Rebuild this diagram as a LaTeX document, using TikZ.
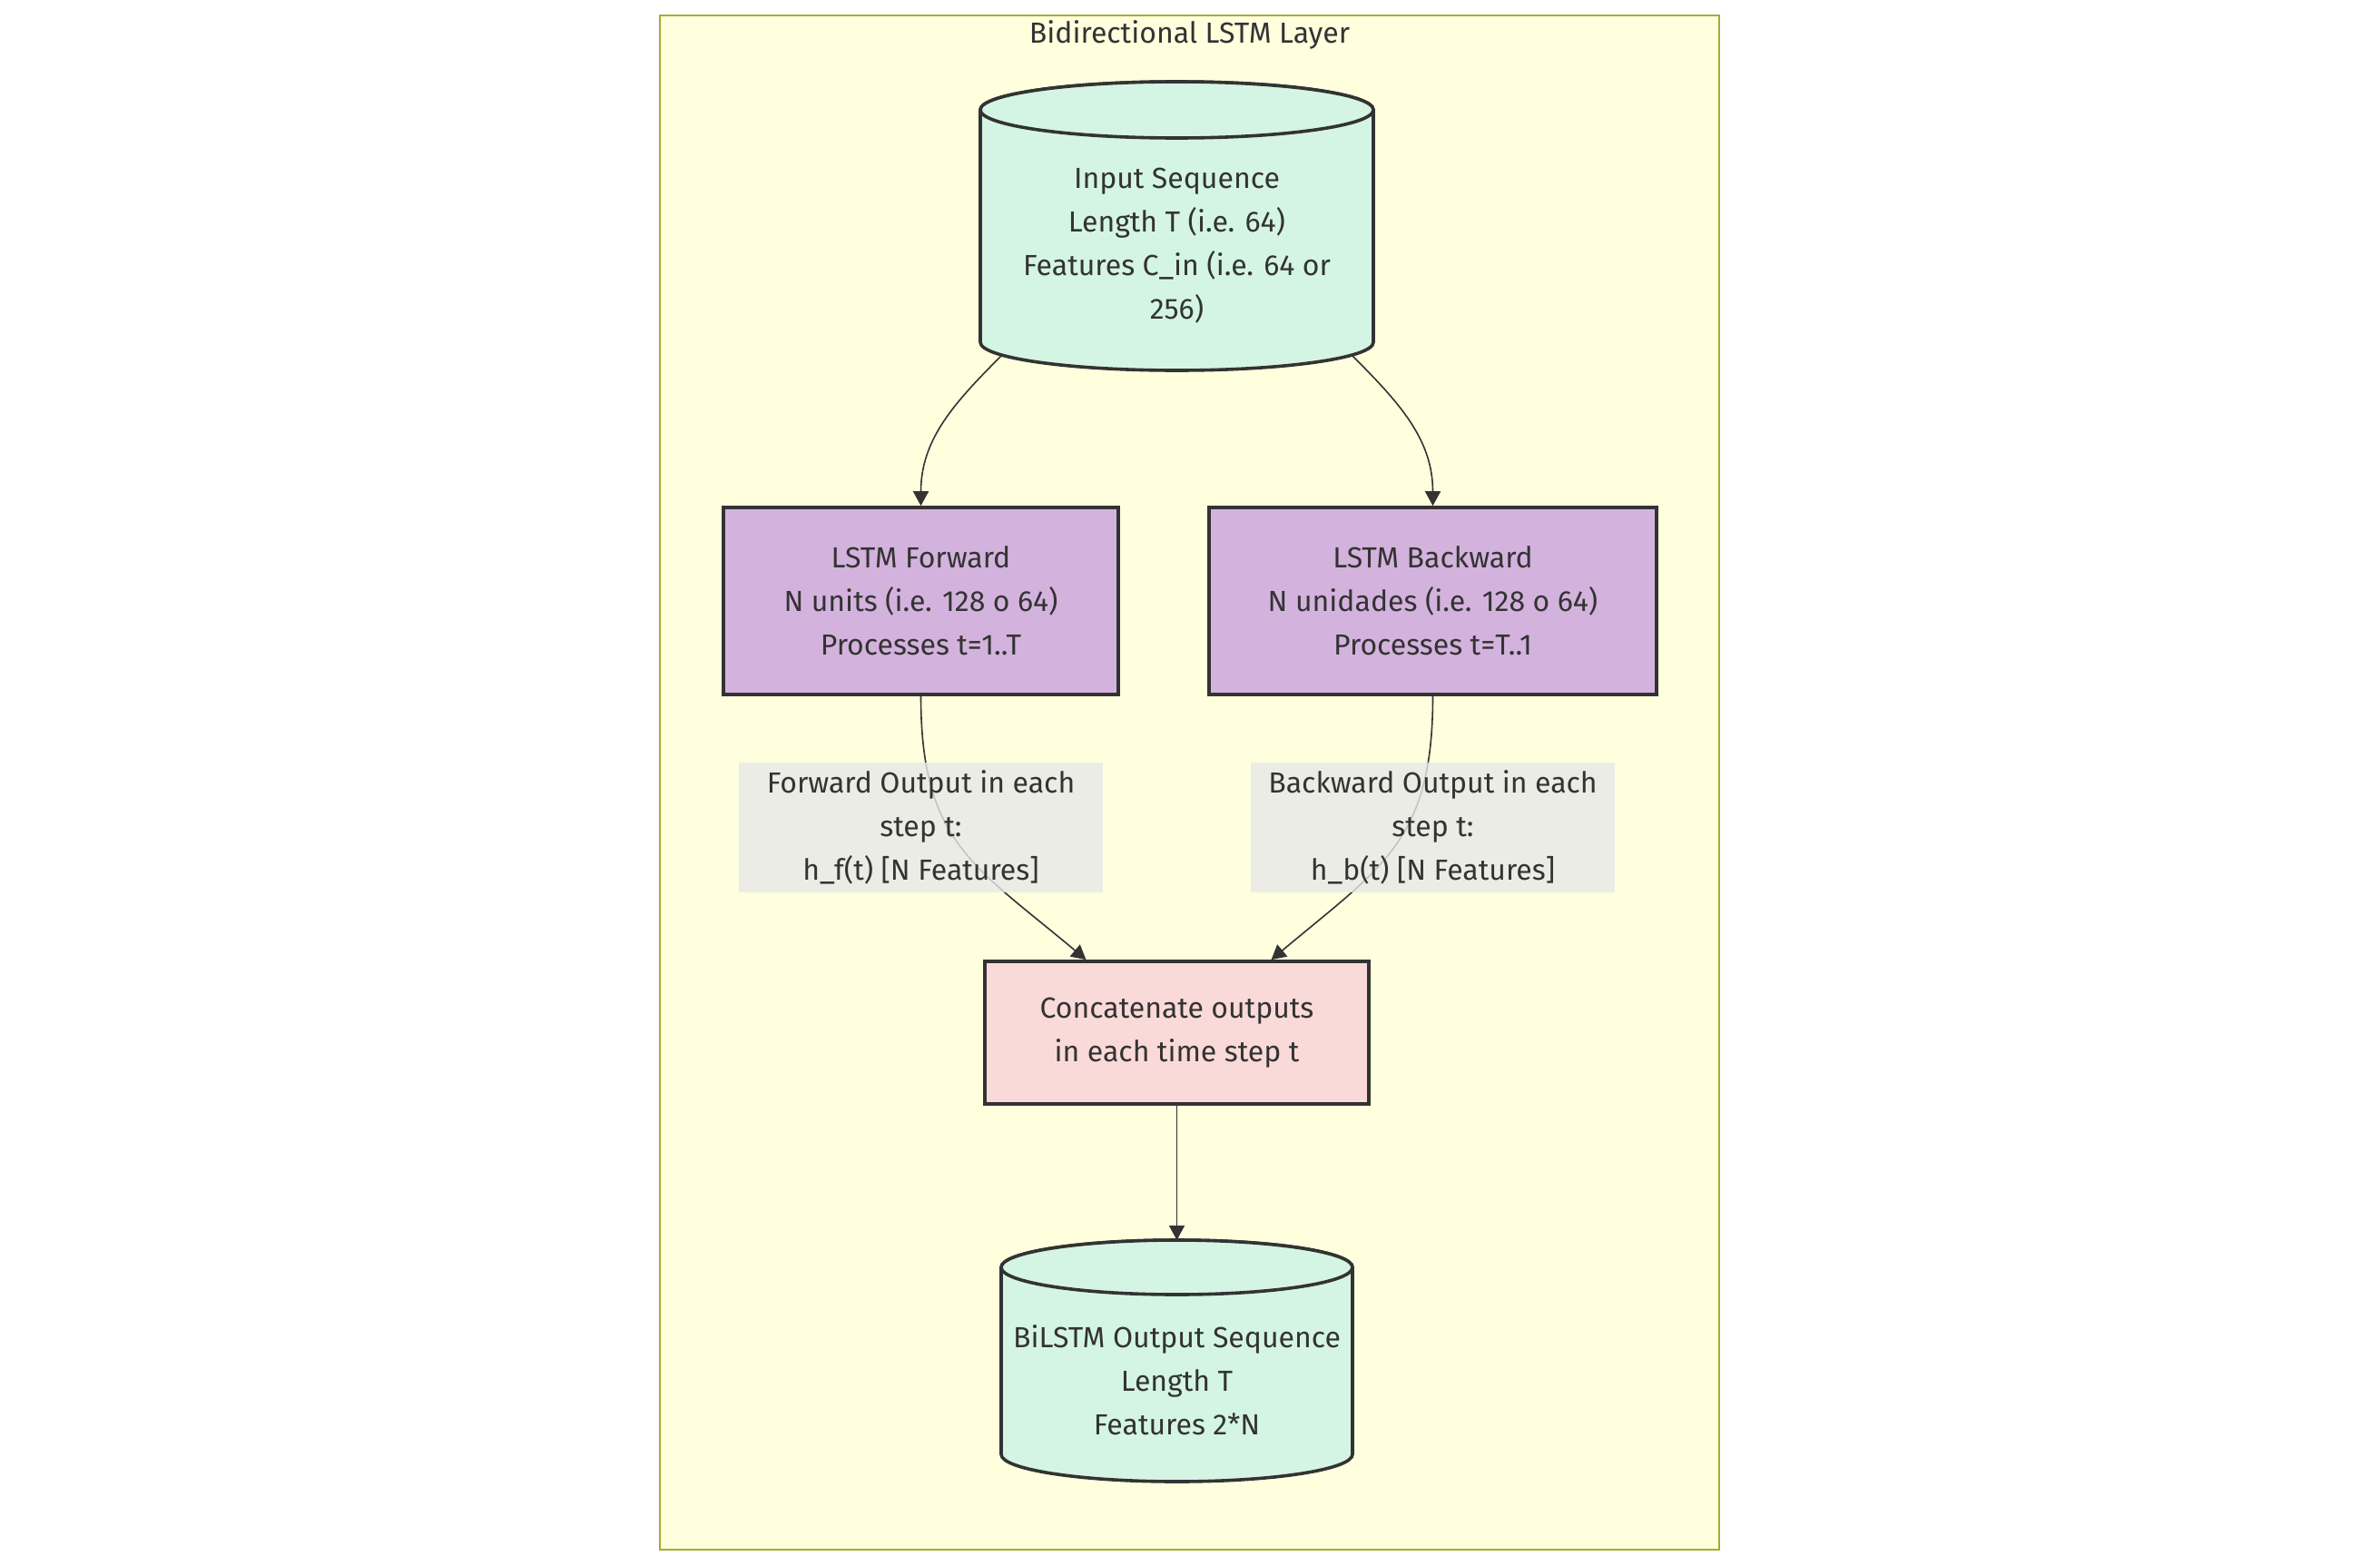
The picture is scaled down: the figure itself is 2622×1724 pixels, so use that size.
\documentclass[tikz,border=0pt]{standalone}
\usepackage{fontspec}
\setmainfont{Fira Sans}
\usepackage{tikz}
\usetikzlibrary{arrows.meta,backgrounds}
\definecolor{ink}{HTML}{333333}
\definecolor{clusterbg}{HTML}{FFFFDE}
\definecolor{clusterline}{HTML}{AAAA33}
\definecolor{seqfill}{HTML}{D4F5E3}
\definecolor{lstmfill}{HTML}{D3B3DD}
\definecolor{catfill}{HTML}{FADAD8}
\definecolor{lblfill}{HTML}{E8E8E8}

\begin{document}
\begin{tikzpicture}[x=0.5pt,y=-0.5pt,font={\fontsize{16pt}{24pt}\selectfont},text=ink]
        \tikzset{seq/.style = {shape=rectangle,inner sep=0pt,outer sep=0pt}}
        \tikzset{seqtext/.style = {align=center,yshift=-11pt}}
        \tikzset{cylbody/.style = {fill=seqfill,draw=ink,line width=1.8pt}}
        \tikzset{lstm/.style = {shape=rectangle,draw=ink,fill=lstmfill,line width=1.8pt,
                align=center,inner sep=0pt,minimum height=103pt}}
        \tikzset{concat/.style = {shape=rectangle,draw=ink,fill=catfill,line width=1.8pt,
                align=center,inner sep=0pt,minimum width=211.5pt,minimum height=78.5pt}}
        \tikzset{edgelbl/.style = {shape=rectangle,fill=lblfill,fill opacity=0.8,text opacity=1,
                align=center,inner sep=0pt,minimum width=200.5pt,minimum height=71.5pt}}
        \tikzset{cluster/.style = {fill=clusterbg,draw=clusterline,line width=1pt}}
        \tikzset{edge/.style = {draw=ink,line width=0.8pt,-{Triangle[length=8pt,width=8.5pt]}}}

        \useasboundingbox (0,0) rectangle (2622,1724);

        \node (title) at (1310.5,38.5) {Bidirectional LSTM Layer};

        \node[seq,minimum width=216.5pt,minimum height=159pt,
              label={[seqtext]center:{Input Sequence\\Length T (i.e. 64)\\Features C\_in (i.e. 64 or\\256)}}]
              (inseq) at (1296.5,249) {};

        \node[lstm,minimum width=217.5pt] (fwd) at (1014.5,662)
              {LSTM Forward\\N units (i.e. 128 o 64)\\Processes t=1..T};
        \node[lstm,minimum width=246.5pt] (bwd) at (1578.5,662)
              {LSTM Backward\\N unidades (i.e. 128 o 64)\\Processes t=T..1};

        \node[concat] (cat) at (1296.5,1137.5) {Concatenate outputs\\in each time step t};

        \node[seq,minimum width=193.5pt,minimum height=133pt,
              label={[seqtext,yshift=0.5pt]center:{BiLSTM Output Sequence\\Length T\\Features 2*N}}]
              (outseq) at (1296.5,1499) {};

        \coordinate (inL) at ([xshift=12pt,yshift=8.5pt]inseq.south west);
        \coordinate (inR) at ([xshift=-12pt,yshift=8.5pt]inseq.south east);

        \draw[edge] (inL) to[out=-135,in=90] (fwd);
        \draw[edge] (inR) to[out=-45,in=90] (bwd);
        \draw[edge] (fwd) to[out=-90,in=140,looseness=1.2] ([xshift=-50pt]cat.north);
        \draw[edge] (bwd) to[out=-90,in=40,looseness=1.2] ([xshift=52pt]cat.north);
        \draw[edge] (cat) -- (outseq);

        \node[edgelbl] (fwdout) at (1014.5,911.5) {Forward Output in each\\step t:\\h\_f(t) [N Features]};
        \node[edgelbl] (bwdout) at (1578.5,911.5) {Backward Output in each\\step t:\\h\_b(t) [N Features]};

        \begin{scope}[on background layer]
            \draw[cluster] (727,17) rectangle (1894,1707);
            % input sequence cylinder
            \path[cylbody] ([yshift=-15.5pt]inseq.north west)
                -- ([yshift=15.5pt]inseq.south west)
                arc[start angle=180,end angle=360,x radius=108.25pt,y radius=15.5pt]
                -- ([yshift=-15.5pt]inseq.north east)
                arc[start angle=0,end angle=180,x radius=108.25pt,y radius=15.5pt] -- cycle;
            \path[cylbody] ([yshift=-15.5pt]inseq.north) ellipse[x radius=108.25pt,y radius=15.5pt];
            % output sequence cylinder
            \path[cylbody] ([yshift=-15pt]outseq.north west)
                -- ([yshift=15pt]outseq.south west)
                arc[start angle=180,end angle=360,x radius=96.75pt,y radius=15pt]
                -- ([yshift=-15pt]outseq.north east)
                arc[start angle=0,end angle=180,x radius=96.75pt,y radius=15pt] -- cycle;
            \path[cylbody] ([yshift=-15pt]outseq.north) ellipse[x radius=96.75pt,y radius=15pt];
        \end{scope}
\end{tikzpicture}
\end{document}
